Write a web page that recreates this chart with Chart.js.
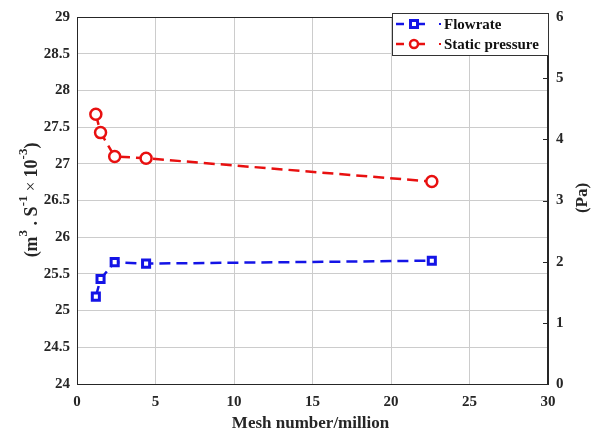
<!DOCTYPE html>
<html>
<head>
<meta charset="utf-8">
<script src="https://cdn.jsdelivr.net/npm/chart.js@4/dist/chart.umd.min.js"></script>
<style>
html,body{margin:0;padding:0;background:#fff;}
canvas{display:block;}
</style>
</head>
<body>
<canvas id="c" width="597" height="440"></canvas>
<script>
// ---- data ----
const meshNumbers = [1.2, 1.5, 2.4, 4.4, 22.6];
const flowrate = [25.19, 25.43, 25.66, 25.64, 25.68];
const staticPressure = [4.41, 4.11, 3.72, 3.69, 3.31];
const seriesNames = ['Flowrate', 'Static pressure'];
const xTitle = 'Mesh number/million';
const rightTitle = '(Pa)';

const SERIF = '"Liberation Serif","Times New Roman",serif';
const BLUE = '#1414e6';
const RED = '#e81010';
const AXIS = '#262626';

function drawSquare(ctx, x, y, r, color) {
  ctx.save();
  ctx.fillStyle = '#fff';
  ctx.strokeStyle = color;
  ctx.lineWidth = 3;
  ctx.fillRect(x - r, y - r, 2 * r, 2 * r);
  ctx.strokeRect(x - r, y - r, 2 * r, 2 * r);
  ctx.restore();
}
function drawCircle(ctx, x, y, r, color) {
  ctx.save();
  ctx.fillStyle = '#fff';
  ctx.strokeStyle = color;
  ctx.lineWidth = 2.5;
  ctx.beginPath();
  ctx.arc(x, y, r, 0, Math.PI * 2);
  ctx.fill();
  ctx.stroke();
  ctx.restore();
}

const decor = {
  id: 'decor',
  afterDraw(chart) {
    const ctx = chart.ctx;
    const a = chart.chartArea;
    ctx.save();
    // plot box
    ctx.strokeStyle = AXIS;
    ctx.lineWidth = 1;
    ctx.strokeRect(a.left + 0.5, a.top + 0.5, a.right - a.left - 1, a.bottom - a.top);
    // right axis inward ticks
    const y1 = chart.scales.y1;
    y1.ticks.forEach(t => {
      const py = Math.round(y1.getPixelForValue(t.value)) + 0.5;
      ctx.beginPath();
      ctx.moveTo(a.right - 5, py);
      ctx.lineTo(a.right, py);
      ctx.stroke();
    });

    // x title
    ctx.fillStyle = AXIS;
    ctx.font = 'bold 17px ' + SERIF;
    ctx.textAlign = 'center';
    ctx.textBaseline = 'middle';
    ctx.fillText(xTitle, (a.left + a.right) / 2 - 2, 424);

    // right title (rotated, reading bottom to top)
    ctx.save();
    ctx.translate(583, 198);
    ctx.rotate(-Math.PI / 2);
    ctx.font = 'bold 17px ' + SERIF;
    ctx.fillText(rightTitle, 0, 0);
    ctx.restore();

    // left title with superscripts
    const parts = [
      { t: '(m', f: 'bold 18px ', dy: 0 },
      { t: '3', f: 'bold 13px ', dy: -8 },
      { t: ' . S', f: 'bold 18px ', dy: 0 },
      { t: '-1', f: 'bold 13px ', dy: -8 },
      { t: ' \u00d7 ', f: '17px ', dy: 0 },
      { t: '10', f: 'bold 18px ', dy: 0 },
      { t: '-3', f: 'bold 13px ', dy: -8 },
      { t: ')', f: 'bold 18px ', dy: 0 }
    ];
    ctx.save();
    ctx.translate(32, 200);
    ctx.rotate(-Math.PI / 2);
    ctx.textAlign = 'left';
    ctx.textBaseline = 'middle';
    let total = 0;
    parts.forEach(p => { ctx.font = p.f + SERIF; p.w = ctx.measureText(p.t).width; total += p.w; });
    let px = -total / 2;
    parts.forEach(p => { ctx.font = p.f + SERIF; ctx.fillText(p.t, px, p.dy); px += p.w; });
    ctx.restore();

    // legend
    const lx = 392, ly = 13, lw = 156, lh = 42;
    ctx.fillStyle = '#fff';
    ctx.fillRect(lx, ly, lw, lh);
    ctx.strokeStyle = '#333';
    ctx.lineWidth = 1;
    ctx.strokeRect(lx + 0.5, ly + 0.5, lw, lh);
    const entries = [
      { name: seriesNames[0], color: BLUE, y: 24, marker: 'sq' },
      { name: seriesNames[1], color: RED, y: 44, marker: 'ci' }
    ];
    entries.forEach(e => {
      ctx.strokeStyle = e.color;
      ctx.lineWidth = 2.5;
      ctx.beginPath();
      ctx.moveTo(396, e.y); ctx.lineTo(404, e.y);
      ctx.moveTo(418, e.y); ctx.lineTo(425, e.y);
      ctx.stroke();
      if (e.marker === 'sq') drawSquare(ctx, 414, e.y, 3.5, e.color);
      else drawCircle(ctx, 414, e.y, 4, e.color);
      ctx.fillStyle = e.color;
      ctx.fillRect(439, e.y - 1, 2, 2);
      ctx.fillStyle = '#111';
      ctx.font = 'bold 15px ' + SERIF;
      ctx.textAlign = 'left';
      ctx.textBaseline = 'middle';
      ctx.fillText(e.name, 444, e.y + 1);
    });
    ctx.restore();
  }
};

const tickFont = { family: SERIF, size: 15, weight: 'bold' };
const fmt = v => String(Math.round(v * 10) / 10);

new Chart(document.getElementById('c'), {
  type: 'line',
  data: {
    datasets: [
      {
        label: seriesNames[0],
        data: meshNumbers.map((x, i) => ({ x: x, y: flowrate[i] })),
        yAxisID: 'y',
        borderColor: BLUE,
        backgroundColor: '#fff',
        borderWidth: 2.5,
        borderDash: [11, 6],
        pointStyle: 'rect',
        pointRadius: 5,
        pointBorderWidth: 3,
        pointBackgroundColor: '#fff',
        pointBorderColor: BLUE,
        tension: 0
      },
      {
        label: seriesNames[1],
        data: meshNumbers.map((x, i) => ({ x: x, y: staticPressure[i] })),
        yAxisID: 'y1',
        borderColor: RED,
        backgroundColor: '#fff',
        borderWidth: 2.5,
        borderDash: [11, 6],
        pointStyle: 'circle',
        pointRadius: 5.5,
        pointBorderWidth: 2.5,
        pointBackgroundColor: '#fff',
        pointBorderColor: RED,
        tension: 0
      }
    ]
  },
  options: {
    responsive: false,
    animation: false,
    devicePixelRatio: 1,
    layout: { padding: { top: 14, left: 0, right: 0, bottom: 0 } },
    plugins: { legend: { display: false }, tooltip: { enabled: false } },
    scales: {
      x: {
        type: 'linear', min: 0, max: 30,
        ticks: { stepSize: 5, font: tickFont, color: AXIS, padding: 9, maxRotation: 0, callback: fmt },
        grid: { color: '#cccccc', drawTicks: false },
        border: { color: AXIS },
        afterFit: s => { s.height = 56; }
      },
      y: {
        position: 'left', min: 24, max: 29,
        ticks: { stepSize: 0.5, font: tickFont, color: AXIS, padding: 7, callback: fmt },
        grid: { color: '#cccccc', drawTicks: false },
        border: { color: AXIS },
        afterFit: s => { s.width = 77; }
      },
      y1: {
        position: 'right', min: 0, max: 6,
        ticks: { stepSize: 1, font: tickFont, color: AXIS, padding: 8, callback: fmt },
        grid: { display: false, drawTicks: false },
        border: { color: AXIS },
        afterFit: s => { s.width = 49; }
      }
    }
  },
  plugins: [decor]
});
</script>
</body>
</html>
